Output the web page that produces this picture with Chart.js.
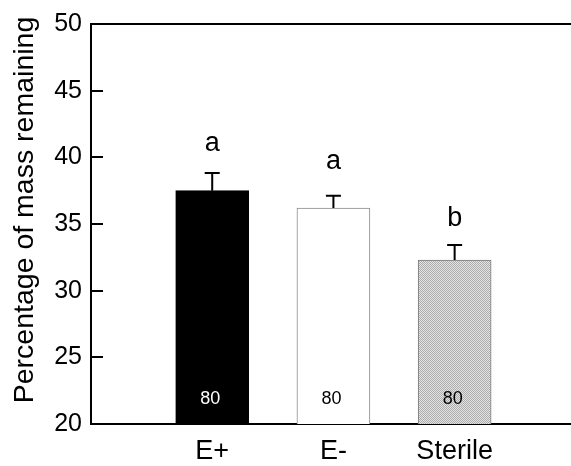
<!DOCTYPE html>
<html><head><meta charset="utf-8">
<script src="https://cdn.jsdelivr.net/npm/chart.js@4/dist/chart.umd.min.js"></script>
<style>html,body{margin:0;padding:0;background:#fff;overflow:hidden}</style>
</head><body>
<canvas id="c" width="571" height="466"></canvas>
<script>
const categories = ['E+', 'E-', 'Sterile'];
const positions = [1, 2, 3];
const meanMass = [37.5, 36.2, 32.3];
const stdError = [1.33, 0.92, 1.12];
const sigLetters = ['a', 'a', 'b'];
const letterLevel = [40.5, 39.15, 34.85];
const sampleSizes = [80, 80, 80];
const yTicks = [20, 25, 30, 35, 40, 45, 50];
const yTitle = 'Percentage of mass remaining';

const FONT = "'Liberation Sans', Arial, Helvetica, sans-serif";

function makePattern() {
  const p = document.createElement('canvas');
  p.width = 2; p.height = 2;
  const g = p.getContext('2d');
  g.fillStyle = '#e4e4e4'; g.fillRect(0, 0, 2, 2);
  g.fillStyle = '#acacac'; g.fillRect(0, 0, 1, 1); g.fillRect(1, 1, 1, 1);
  return g.createPattern(p, 'repeat');
}
const ctx0 = document.getElementById('c').getContext('2d');
const fills = ['#000000', '#ffffff', makePattern()];
const borders = ['#000000', '#8a8a8a', '#7a7a7a'];

const annot = {
  id: 'annot',
  afterDatasetsDraw(chart) {
    const { ctx, chartArea: a, scales: { x, y } } = chart;
    ctx.save();
    ctx.strokeStyle = '#000'; ctx.lineWidth = 2;
    ctx.beginPath(); ctx.moveTo(a.left - 1, a.top); ctx.lineTo(a.right, a.top); ctx.stroke();
    yTicks.slice(1, -1).forEach(v => {
      const py = Math.round(y.getPixelForValue(v));
      ctx.beginPath(); ctx.moveTo(a.left, py); ctx.lineTo(a.left + 12, py); ctx.stroke();
    });
    positions.forEach((p, i) => {
      const px = x.getPixelForValue(p);
      const y0 = y.getPixelForValue(meanMass[i]);
      const y1 = y.getPixelForValue(meanMass[i] + stdError[i]);
      ctx.strokeStyle = '#000'; ctx.lineWidth = 2;
      ctx.beginPath(); ctx.moveTo(px, y0); ctx.lineTo(px, y1);
      ctx.moveTo(px - 7.5, y1); ctx.lineTo(px + 7.5, y1); ctx.stroke();
      ctx.fillStyle = '#000'; ctx.font = `27px ${FONT}`;
      ctx.textAlign = 'center'; ctx.textBaseline = 'alphabetic';
      ctx.fillText(sigLetters[i], px, y.getPixelForValue(letterLevel[i]));
      ctx.font = `18px ${FONT}`; ctx.textBaseline = 'middle';
      ctx.fillStyle = i === 0 ? '#fff' : '#000';
      ctx.fillText(String(sampleSizes[i]), px - 2, a.bottom - 25);
    });
    ctx.translate(33, 210); ctx.rotate(-Math.PI / 2);
    ctx.font = `28.5px ${FONT}`; ctx.fillStyle = '#000';
    ctx.textAlign = 'center'; ctx.textBaseline = 'alphabetic';
    ctx.fillText(yTitle, 0, 0);
    ctx.restore();
  }
};

new Chart(ctx0, {
  type: 'bar',
  data: {
    datasets: [{
      data: positions.map((p, i) => ({ x: p, y: meanMass[i] })),
      backgroundColor: fills,
      borderColor: borders,
      borderWidth: 1,
      borderSkipped: 'start',
      barThickness: 73,
      base: 20
    }]
  },
  options: {
    responsive: false,
    devicePixelRatio: 1,
    animation: false,
    layout: { padding: { top: 22, right: 0, bottom: 0, left: 0 } },
    plugins: { legend: { display: false }, tooltip: { enabled: false } },
    scales: {
      x: {
        type: 'linear', min: 0, max: 3.96, offset: false,
        grid: { display: false, drawTicks: false, offset: false },
        border: { display: true, color: '#000', width: 2 },
        afterBuildTicks: s => { s.ticks = positions.map(v => ({ value: v })); },
        afterFit: s => { s.height = 42; },
        ticks: {
          autoSkip: false, maxRotation: 0, padding: 11, color: '#000',
          font: { family: FONT, size: 27 },
          callback: v => categories[positions.indexOf(v)]
        }
      },
      y: {
        min: 20, max: 50,
        grid: { display: false, drawTicks: false },
        border: { display: true, color: '#000', width: 2 },
        afterBuildTicks: s => { s.ticks = yTicks.map(v => ({ value: v })); },
        afterFit: s => { s.width = 91; },
        ticks: { padding: 9, color: '#000', font: { family: FONT, size: 25 } }
      }
    }
  },
  plugins: [annot]
});
</script>
</body></html>
